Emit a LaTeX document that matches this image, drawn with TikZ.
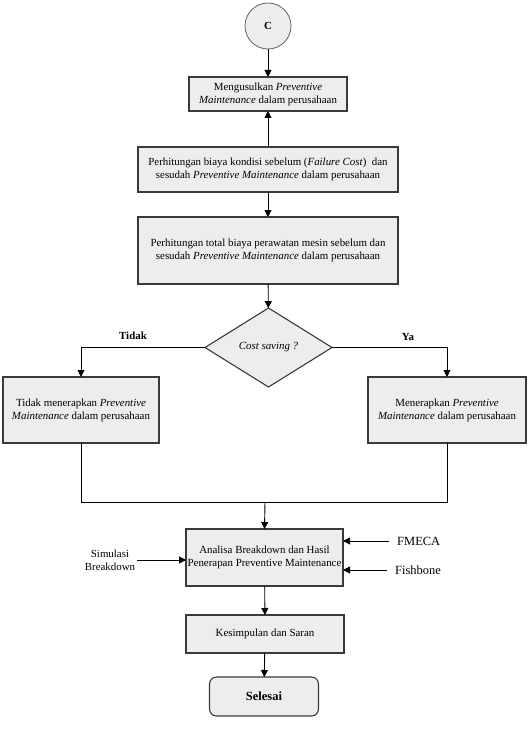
\documentclass[tikz,border=0pt]{standalone}
\usepackage{fontspec}
\setmainfont{Liberation Serif}
\usetikzlibrary{shapes.geometric,arrows.meta}
\definecolor{boxfill}{HTML}{EDEDED}
\definecolor{boxline}{HTML}{3A3A3A}
\begin{document}
\begin{tikzpicture}[x=1pt,y=-1pt,
  every node/.style={font=\fontsize{10.9}{13}\selectfont},
  box/.style={draw=boxline,line width=1.1pt,fill=boxfill,align=center,inner sep=0pt,outer sep=0pt},
  arr/.style={draw=black,line width=0.9pt,-{Triangle[length=7pt,width=7pt]}},
  ln/.style={draw=black,line width=0.9pt}]
\useasboundingbox (0,0) rectangle (532,738);
\node[box,circle,draw=boxline!80,line width=0.8pt,minimum size=46pt,font=\fontsize{10.9}{13}\selectfont\bfseries] (c) at (268,26) {C};
\node[box,minimum width=158pt,minimum height=34pt] (b1) at (268,94) {Mengusulkan \textit{Preventive}\\\textit{Maintenance} dalam perusahaan};
\node[box,minimum width=260pt,minimum height=45pt] (b2) at (268,169.5) {Perhitungan biaya kondisi sebelum (\textit{Failure Cost})\ \ dan\\sesudah \textit{Preventive Maintenance} dalam perusahaan};
\node[box,minimum width=260pt,minimum height=67pt] (b3) at (268,250.5) {Perhitungan total biaya perawatan mesin sebelum dan\\sesudah \textit{Preventive Maintenance} dalam perusahaan};
\node[box,diamond,minimum width=127pt,minimum height=79pt,aspect=1.6] (d) at (268.5,347.5) {\textit{Cost saving ?}};
\node[box,minimum width=156pt,minimum height=66pt] (l) at (81,410) {Tidak menerapkan \textit{Preventive}\\\textit{Maintenance} dalam perusahaan};
\node[box,minimum width=158pt,minimum height=66pt] (r) at (447,410) {Menerapkan \textit{Preventive}\\\textit{Maintenance} dalam perusahaan};
\node[font=\fontsize{10.9}{13}\selectfont\bfseries] (tidak) at (133,336) {Tidak};
\node[font=\fontsize{10.9}{13}\selectfont\bfseries] (ya) at (408,337) {Ya};
\node[box,minimum width=157pt,minimum height=57pt] (an) at (264.5,557.5) {Analisa Breakdown dan Hasil\\Penerapan Preventive Maintenance};
\node[box,minimum width=158pt,minimum height=38pt] (ks) at (265,634) {Kesimpulan dan Saran};
\node[box,rounded corners=7pt,minimum width=109pt,minimum height=39pt,font=\fontsize{12.5}{15}\selectfont\bfseries] (end) at (264,696.5) {Selesai};
\node[anchor=west,inner sep=0pt,font=\fontsize{12.5}{15}\selectfont] (fm) at (397,541) {FMECA};
\node[anchor=west,inner sep=0pt,font=\fontsize{12.5}{15}\selectfont] (fb) at (395,570) {Fishbone};
\node[align=center,inner sep=2pt] (sim) at (110,560) {Simulasi\\Breakdown};
\coordinate (j) at (265,502);
\draw[arr] (c) -- (b1);
\draw[arr] (b2) -- (b1);
\draw[arr] (b2) -- (b3);
\draw[arr] (b3) -- (d);
\draw[arr] (d.west) -| (l.north);
\draw[arr] (d.east) -| (r.north);
\draw[ln] (l.south) -- (l.south |- j) -- (r.south |- j) -- (r.south);
\draw[arr] (j) -- (an.north);
\draw[arr] ([xshift=-8pt]fm.west) -- (an.east |- fm.west);
\draw[arr] ([xshift=-8pt]fb.west) -- (an.east |- fb.west);
\draw[arr] (sim.east) -- (an.west |- sim.east);
\draw[arr] (an) -- (ks);
\draw[arr] (ks) -- (end);
\end{tikzpicture}
\end{document}
